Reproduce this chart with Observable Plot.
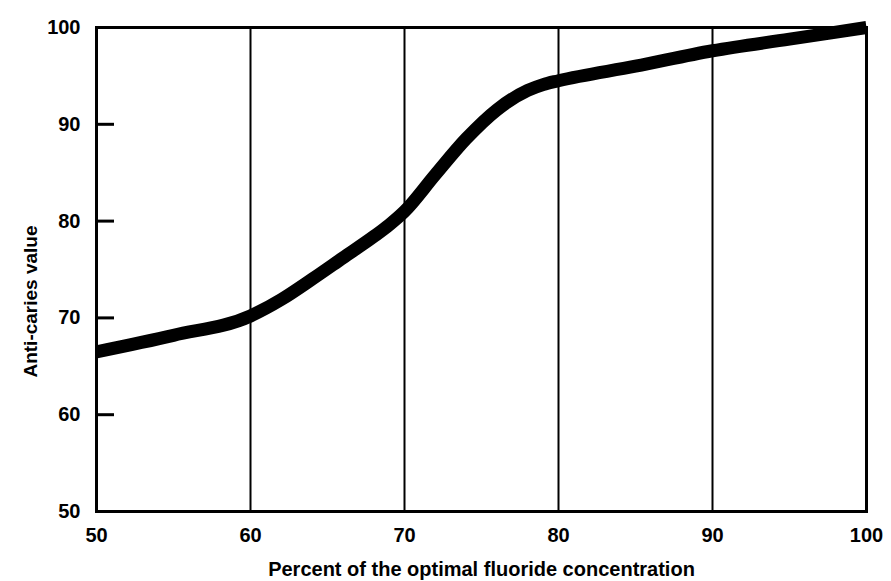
<!DOCTYPE html>
<html>
<head>
<meta charset="utf-8">
<script src="https://cdn.jsdelivr.net/npm/d3@7"></script>
<script src="https://cdn.jsdelivr.net/npm/@observablehq/plot@0.6"></script>
<style>
  html, body { margin: 0; padding: 0; background: #fff; }
  #chart svg { display: block; }
</style>
</head>
<body>
<div id="chart"></div>
<script>
const percent = [50, 55, 60, 62, 64, 66, 68, 69, 70, 72, 74, 76, 78, 79, 80, 85, 90, 95, 100];
const antiCaries = [66.5, 68.2, 70.2, 71.9, 74.0, 76.2, 78.4, 79.6, 81, 84.8, 88.5, 91.5, 93.5, 94.1, 94.5, 96, 97.6, 98.8, 100];
const xTicks = [50, 60, 70, 80, 90, 100];
const yTicks = [50, 60, 70, 80, 90, 100];
const innerTicks = [60, 70, 80, 90];
const xGrid = [60, 70, 80, 90];
const xLabel = "Percent of the optimal fluoride concentration";
const yLabel = "Anti-caries value";

const data = percent.map((p, i) => ({x: p, y: antiCaries[i]}));

const chart = Plot.plot({
  width: 891,
  height: 581,
  marginLeft: 96,
  marginRight: 25,
  marginTop: 27,
  marginBottom: 70,
  style: {fontFamily: "Liberation Sans, Arial, sans-serif", fontWeight: "bold", background: "#fff", color: "#000"},
  x: {domain: [50, 100]},
  y: {domain: [50, 100]},
  marks: [
    Plot.ruleX(xGrid, {stroke: "#000", strokeWidth: 2}),
    Plot.ruleY(innerTicks, {x1: 50, x2: 51.17, stroke: "#000", strokeWidth: 3}),
    Plot.frame({stroke: "#000", strokeWidth: 3}),
    Plot.line(data, {x: "x", y: "y", curve: "monotone-x", stroke: "#000", strokeWidth: 13, strokeLinecap: "butt"}),
    Plot.axisX(xTicks, {tickSize: 0, tickPadding: 16, fontSize: 20, fontWeight: "bold", label: null}),
    Plot.axisY(yTicks, {tickSize: 0, tickPadding: 16, fontSize: 20, fontWeight: "bold", label: null}),
    Plot.text([xLabel], {frameAnchor: "bottom", dy: 64, dx: 0, fontSize: 20, fontWeight: "bold", fill: "#000"}),
    Plot.text([yLabel], {frameAnchor: "left", textAnchor: "middle", dx: -66, dy: 32, rotate: -90, fontSize: 19, fontWeight: "bold", fill: "#000"})
  ]
});
document.getElementById("chart").appendChild(chart);
</script>
</body>
</html>
